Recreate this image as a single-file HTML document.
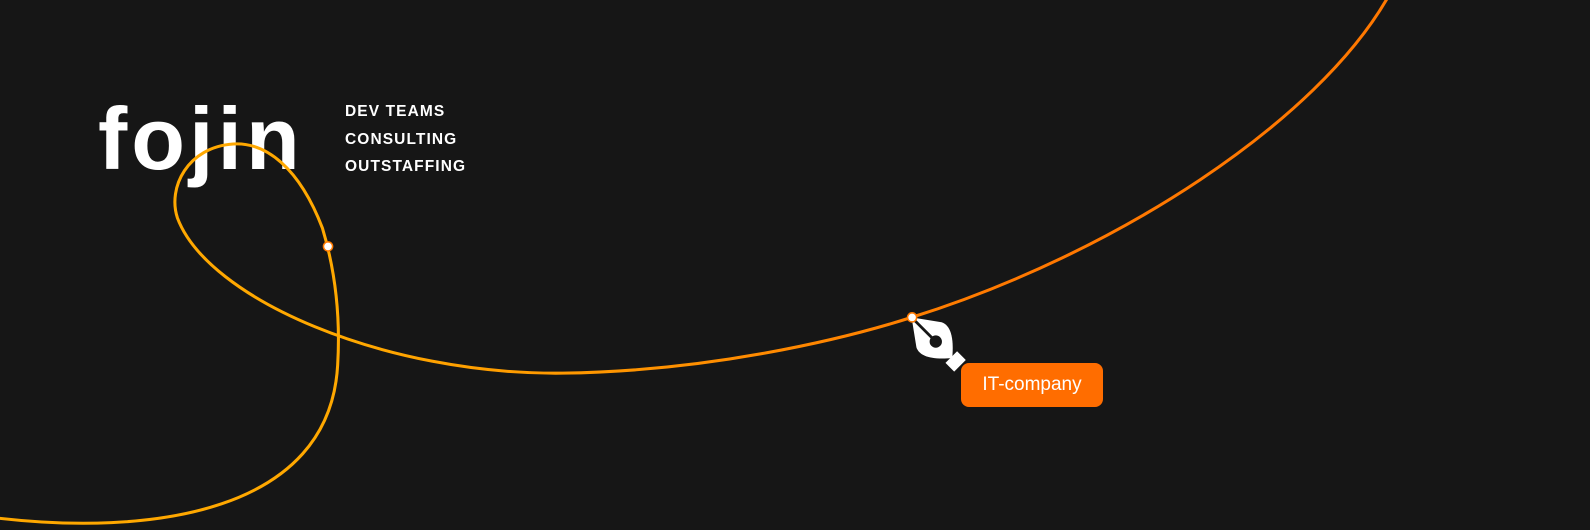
<!DOCTYPE html>
<html><head><meta charset="utf-8"><style>
html,body{margin:0;padding:0;background:#161616;}
#root{position:relative;width:1590px;height:530px;overflow:hidden;background:#161616;font-family:"Liberation Sans",sans-serif;}
svg{position:absolute;left:0;top:0;}
.logo{position:absolute;left:98px;top:95px;font-size:88px;font-weight:bold;color:#fff;letter-spacing:4px;line-height:1;}
.menu{position:absolute;left:345px;top:98px;color:#fff;font-size:15.5px;letter-spacing:1.1px;line-height:27.5px;font-weight:bold;}
.btn{position:absolute;left:961px;top:363px;width:142px;height:44px;border-radius:8px;background:#ff6d00;color:#fff;font-size:19px;line-height:44px;text-align:center;}
</style></head><body>
<div id="root">
<div class="logo">fojin</div>
<div class="menu">
<div>DEV TEAMS</div>
<div>CONSULTING</div>
<div>OUTSTAFFING</div>
</div>
<svg width="1590" height="530" viewBox="0 0 1590 530">
<defs><linearGradient id="g" gradientUnits="userSpaceOnUse" x1="350" y1="0" x2="1000" y2="0"><stop offset="0" stop-color="#ffa800"/><stop offset="1" stop-color="#ff7800"/></linearGradient></defs>
<g transform="scale(1.014)">
<path d="M -10,510 C 150,530 325,505 333,360 C 336,310 330,265 318,225 C 295,165 262,140 230,142 C 185,145 165,185 175,215 C 205,295 380,370 555,368 C 700,366 830,335 899,313 C 1100,250 1300,120 1370,-5" fill="none" stroke="url(#g)" stroke-width="3"/>
<circle cx="323.5" cy="243" r="4.5" fill="#fff" stroke="#ff7a00" stroke-width="1.5"/>
<g transform="translate(899,313) rotate(-45) scale(1.35)">
<path d="M0,0 L-13,18 C-16,24 -12,32 0,42 C12,32 16,24 13,18 Z" fill="#fff"/>
<rect x="-6" y="41" width="12" height="9" fill="#fff"/>
<line x1="0" y1="0" x2="0" y2="24" stroke="#161616" stroke-width="2"/>
<circle cx="0" cy="25" r="4.5" fill="#161616"/>
</g>
<circle cx="899.5" cy="313" r="4.5" fill="#fff" stroke="#ff7a00" stroke-width="1.5"/>
</g>
</svg>
<div class="btn">IT-company</div>
</div>
</body></html>
